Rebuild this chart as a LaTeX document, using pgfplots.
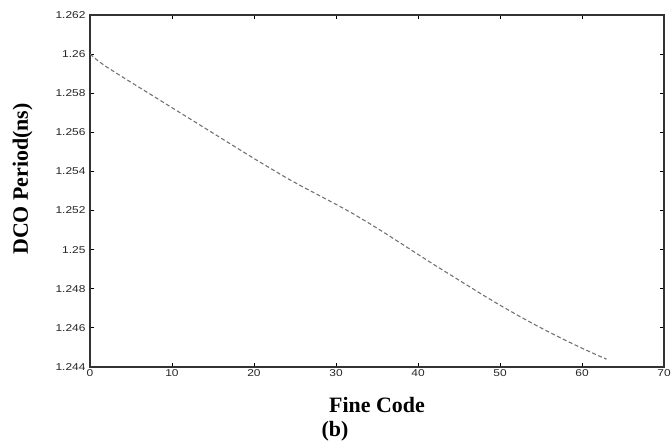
\documentclass[border=0pt]{standalone}
\usepackage{fontspec}
\setmainfont{Liberation Serif}
\newfontfamily\tickfont[FakeStretch=1.2]{Liberation Sans}
\usepackage{pgfplots}
\pgfplotsset{compat=1.18}
\begin{document}
\begin{tikzpicture}[x=1bp,y=1bp]
\begin{axis}[
  name=ax,
  scale only axis,
  width=574bp, height=352bp,
  xmin=0, xmax=70, ymin=1.244, ymax=1.262,
  xtick={0,10,...,70},
  ytick={1.244,1.246,1.248,1.25,1.252,1.254,1.256,1.258,1.26,1.262},
  scaled y ticks=false,
  yticklabel style={/pgf/number format/.cd, fixed, precision=3},
  /pgf/number format/assume math mode=true,
  tick label style={font=\tickfont\fontsize{10}{11}\selectfont, text=black!85},
  tick align=inside,
  major tick length=4bp,
  axis line style={line width=1.3bp, black!80},
  tick style={line width=0.8bp, black},
  xticklabel shift=-1bp,
  yticklabel shift=1bp,
  xlabel={\textbf{Fine Code}},
  ylabel={\textbf{DCO Period(ns)}},
  xlabel style={font=\fontsize{22}{24}\selectfont, at={(axis description cs:0.5,0)}, anchor=base, yshift=-45bp},
  ylabel style={font=\fontsize{22}{24}\selectfont, at={(axis description cs:0,0.5)}, anchor=base, yshift=62bp, xshift=12bp},
]
\addplot[black!55, line width=1.1bp, dash pattern=on 4bp off 2.5bp] coordinates {
(0,1.26000) (1,1.25965) (2,1.25935) (4,1.25882) (6,1.25830) (8,1.25778)
(10,1.25726) (12,1.25674) (14,1.25622) (16,1.25570) (18,1.25518) (20,1.25466)
(22,1.25416) (24,1.25366) (26,1.25320) (28,1.25276) (30,1.25232) (32,1.25186)
(34,1.25136) (36,1.25084) (38,1.25030) (40,1.24976) (42,1.24922) (44,1.24870)
(46,1.24818) (48,1.24766) (50,1.24716) (52,1.24668) (54,1.24622) (56,1.24578)
(58,1.24536) (60,1.24496) (62,1.24458) (63,1.24440)
};
\end{axis}
\node[font=\bfseries\fontsize{22}{24}\selectfont, anchor=base] at (ax.south) [yshift=-69bp, xshift=-42bp] {(b)};
\pgfresetboundingbox
\path (ax.south west) ++(-90bp,-78bp) rectangle ++(672bp,445bp);
\end{tikzpicture}
\end{document}
